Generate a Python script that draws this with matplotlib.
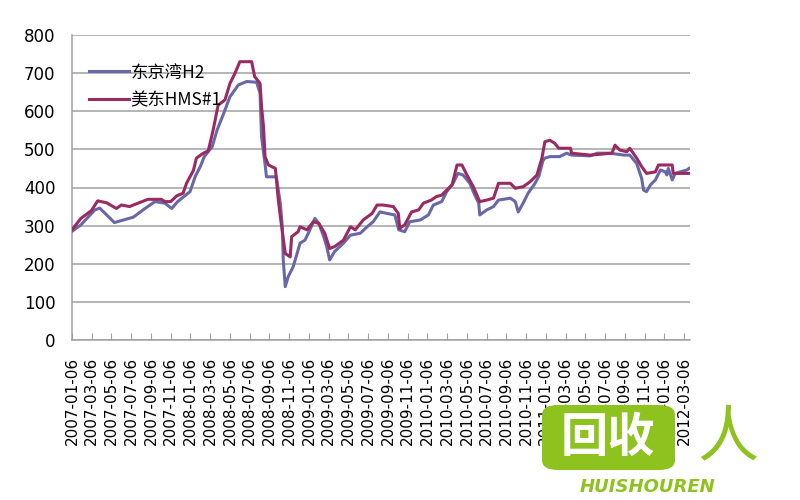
import matplotlib
matplotlib.use('Agg')
import matplotlib.pyplot as plt
from matplotlib.patches import FancyBboxPatch

# Weekly price series; x is months since 2007-01-06
months_h2 = [0, 0.9, 2.3, 2.8, 4.3, 5.5, 6.2, 7.4, 8.4, 9.4, 10.1, 10.7, 11.95, 12.5, 13.0,
             13.4, 14.2, 14.7, 15.3, 16.0, 16.85, 17.7, 18.7, 19.05, 19.2, 19.55, 19.7, 20.7,
             20.9, 21.1, 21.3, 21.4, 21.6, 21.9, 22.4, 22.8, 23.1, 23.6, 24.1, 24.6, 25.0,
             25.5, 25.8, 26.1, 26.6, 27.5, 28.2, 29.2, 29.9, 30.5, 31.2, 31.9, 32.7, 33.1,
             33.7, 34.2, 35.3, 36.1, 36.6, 37.45, 37.95, 38.6, 39.1, 39.6, 40.3, 40.8, 41.2,
             41.3, 42.0, 42.7, 43.2, 44.4, 44.9, 45.2, 45.7, 46.2, 46.9, 47.3, 47.7, 47.9,
             48.4, 49.4, 50.1, 50.6, 52.5, 53.2, 54.5, 55.9, 56.5, 57.2, 57.7, 57.9, 58.2,
             58.6, 59.1, 59.6, 60.1, 60.25, 60.4, 60.8, 61.1, 61.6, 62.3, 62.5]
tokyo_h2 = [285, 302, 341, 346, 308, 317, 322, 345, 363, 359, 345, 363, 389, 430, 455,
            481, 507, 551, 590, 638, 669, 678, 676, 647, 533, 463, 428, 428,
            393, 359, 297, 210, 140, 166, 192, 227, 254, 262, 289, 319, 306,
            271, 245, 210, 232, 254, 275, 280, 297, 310, 336, 332, 328, 289,
            284, 310, 315, 328, 354, 363, 389, 411, 437, 433, 411, 380, 359,
            328, 341, 350, 367, 372, 363, 336, 359, 385, 411, 430, 470, 477,
            481, 481, 490, 485, 483, 490, 490, 485, 485, 463, 424, 393, 389,
            407, 420, 446, 441, 433, 450, 420, 437, 441, 446, 450]

months_hms = [0, 0.9, 1.95, 2.6, 3.5, 4.5, 5.0, 5.85, 6.2, 7.7, 9.05, 9.4, 10.0, 10.6,
              11.25, 11.6, 12.3, 12.6, 13.3, 13.8, 14.3, 14.8, 15.5, 16.0, 16.5, 17.0,
              18.2, 18.5, 19.05, 19.2, 19.4, 19.55, 19.9, 20.6, 20.9, 21.15, 21.6, 22.1,
              22.25, 22.9, 23.1, 23.8, 24.45, 25.0, 25.6, 26.1, 26.6, 27.5, 28.2, 28.7,
              29.5, 30.4, 30.9, 31.5, 32.55, 33.05, 33.2, 33.7, 34.4, 35.1, 35.6, 36.4,
              36.9, 37.45, 37.95, 38.5, 39.0, 39.5, 40.0, 40.65, 41.3, 42.0, 42.7, 43.2,
              44.4, 44.9, 45.7, 46.4, 47.1, 47.6, 47.9, 48.4, 48.9, 49.3, 50.5, 50.6,
              52.5, 54.7, 55.0, 55.5, 56.2, 56.5, 57.2, 57.7, 58.2, 59.1, 59.4, 60.8,
              60.9, 62.45]
us_hms1 = [289, 319, 339, 365, 360, 345, 354, 350, 354, 369, 369, 363, 363, 378,
           385, 411, 445, 477, 490, 496, 551, 616, 630, 673, 699, 730,
           730, 691, 673, 612, 559, 481, 459, 450, 367, 315, 227, 218,
           271, 284, 297, 289, 310, 306, 280, 240, 245, 262, 297, 289,
           315, 332, 354, 354, 350, 332, 293, 302, 336, 341, 359, 367,
           376, 380, 393, 407, 459, 459, 433, 402, 363, 367, 372, 411,
           411, 398, 402, 415, 433, 477, 520, 524, 516, 503, 503, 490,
           485, 490, 511, 498, 494, 503, 477, 455, 437, 441, 459, 459,
           437, 437]

tick_labels = ['%d-%02d-06' % (2007 + i // 6, (i % 6) * 2 + 1) for i in range(32)]
tick_pos = [2 * i for i in range(32)]

fig = plt.figure(figsize=(8, 5), dpi=100)
ax = fig.add_axes([0.09, 0.32, 0.7725, 0.61])

ax.plot(months_h2, tokyo_h2, color='#6868a8', lw=2.2, label='东京湾H2', zorder=3)
ax.plot(months_hms, us_hms1, color='#9a2a60', lw=2.2, label='美东HMS#1', zorder=4)

ax.set_xlim(0, 62.6)
ax.set_ylim(0, 800)
ax.set_yticks(range(0, 801, 100))
ax.yaxis.grid(True, color='#a0a0a0', lw=1.1)
ax.set_axisbelow(True)
for s in ['top', 'right']:
    ax.spines[s].set_visible(False)
for s in ['left', 'bottom']:
    ax.spines[s].set_color('#a0a0a0')
    ax.spines[s].set_linewidth(1.1)

ax.set_xticks(tick_pos)
ax.set_xticklabels(tick_labels, rotation=90, fontsize=11, va='top')
ax.tick_params(axis='x', direction='in', length=5, color='#a0a0a0', pad=12)
ax.tick_params(axis='y', length=0, labelsize=12, pad=12)

leg = ax.legend(loc='upper left', bbox_to_anchor=(0.013, 0.935), frameon=False,
                prop={'family': ['Noto Sans CJK SC', 'DejaVu Sans'], 'size': 12.5},
                handlelength=2.3, handletextpad=0.1, labelspacing=0.55, borderpad=0)

# watermark logo in the lower right corner
green = '#8dc21f'
fig.add_artist(FancyBboxPatch((542 / 800, 30 / 500), 133 / 800, 65 / 500,
                              boxstyle='round,pad=0,rounding_size=0.02',
                              transform=fig.transFigure, fc=green, ec='none', zorder=5))
fig.text(608 / 800, 62 / 500, '回收', color='white', fontsize=34, fontweight='bold',
         family=['Noto Sans CJK SC'], ha='center', va='center', zorder=6)
fig.text(648 / 800, 13 / 500, 'HUISHOUREN', color=green, fontsize=13, fontweight='bold',
         style='italic', ha='center', va='center', zorder=6)
fig.text(728 / 800, 62 / 500, '人', color=green, fontsize=44, style='italic',
         family=['Noto Sans CJK SC'], ha='center', va='center', zorder=6)

fig.savefig('out.png', dpi=100)
